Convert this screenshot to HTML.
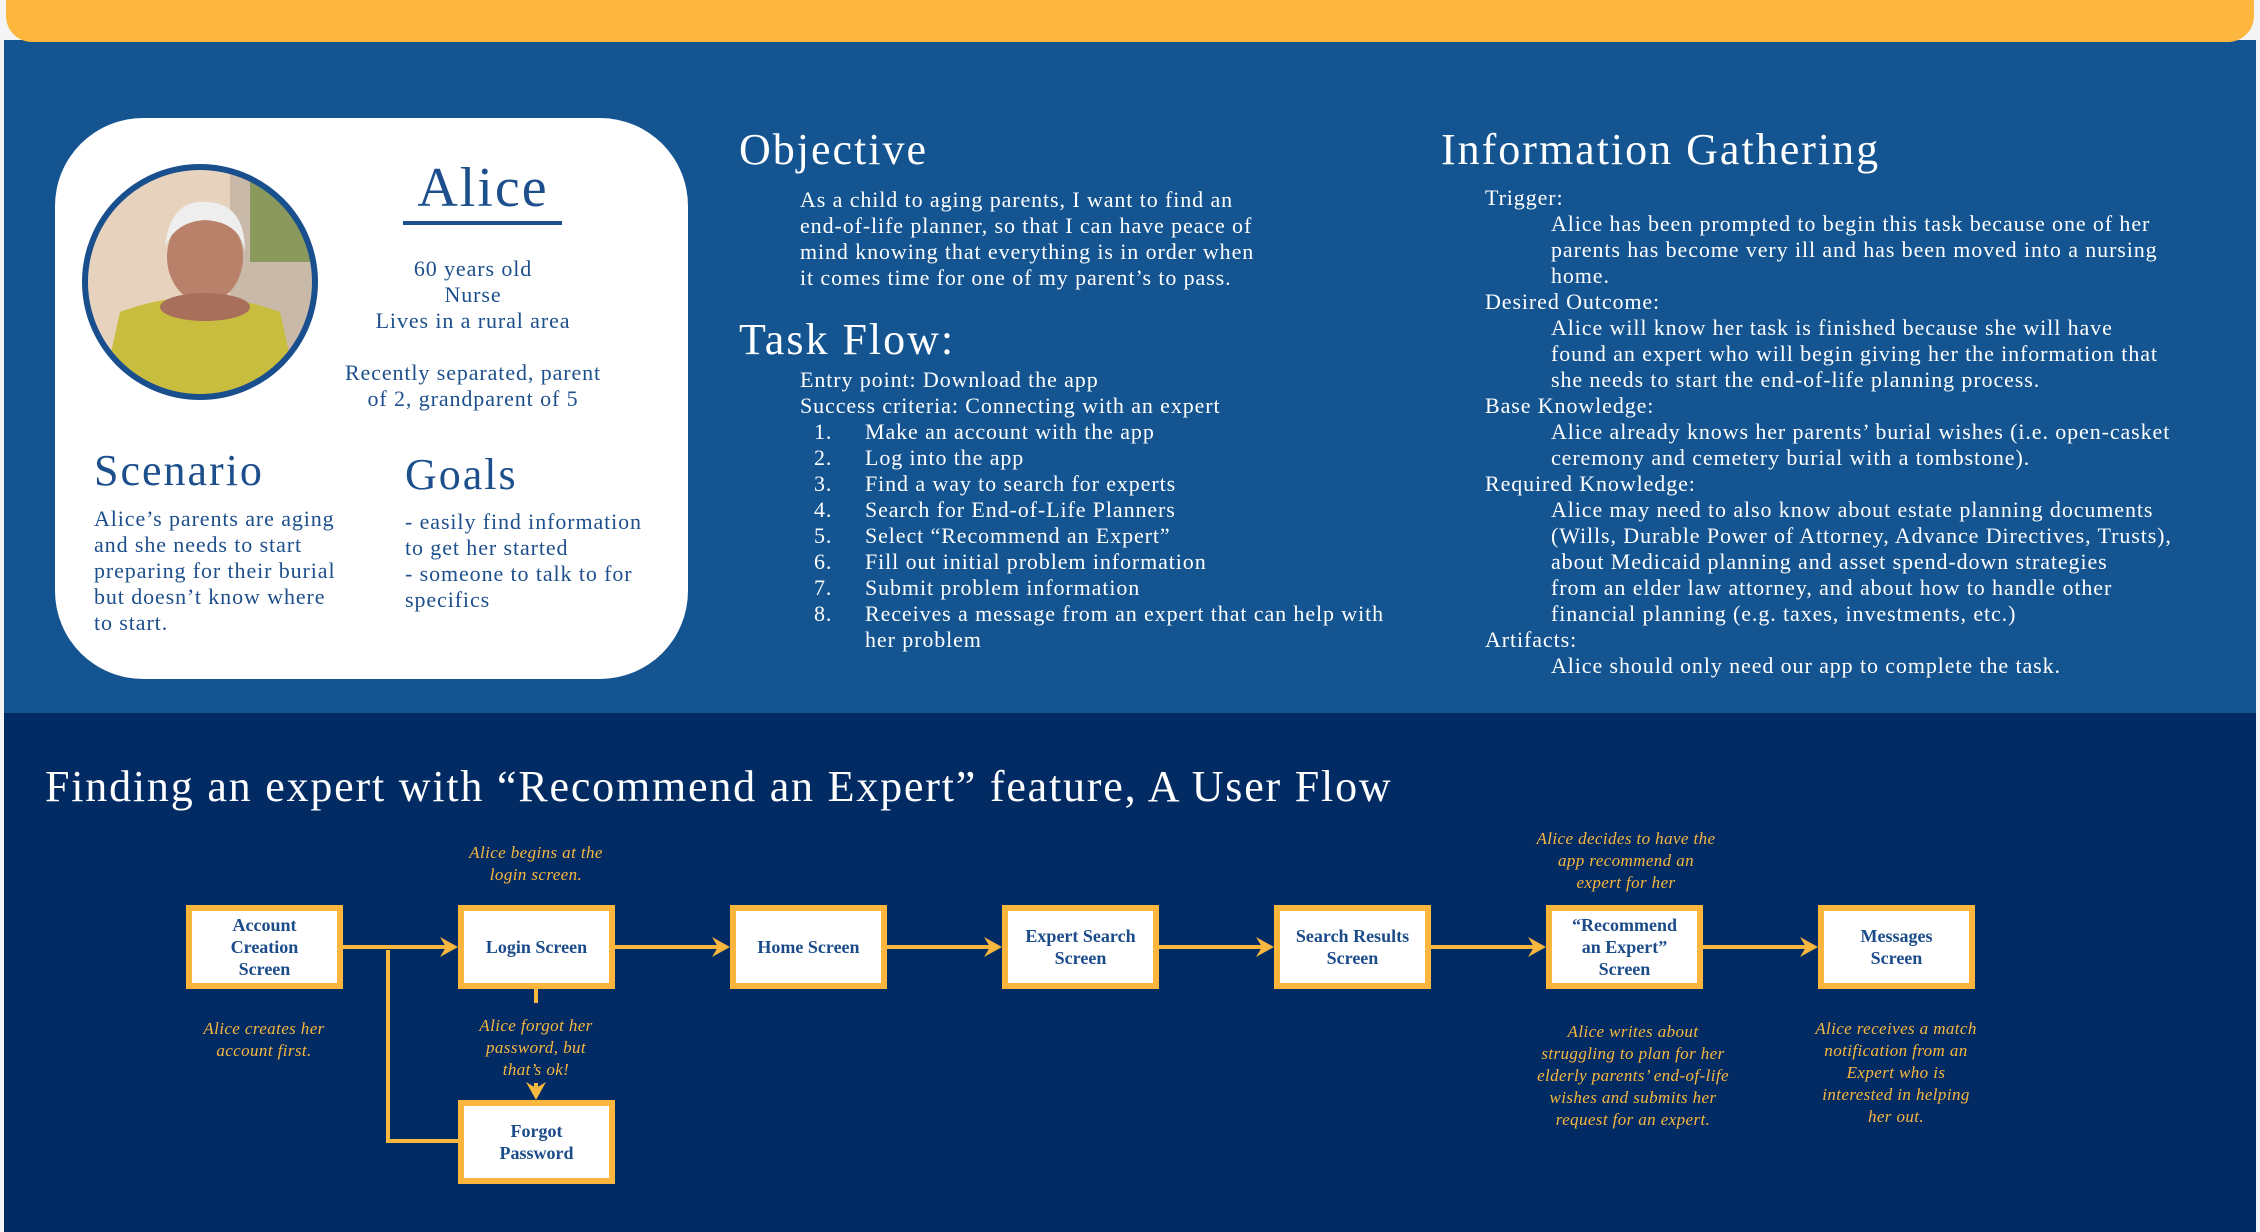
<!DOCTYPE html>
<html><head><meta charset="utf-8"><style>
*{margin:0;padding:0;box-sizing:border-box}
body{width:2260px;height:1232px;position:relative;overflow:hidden;background:#f4f4f4;font-family:"Liberation Serif",serif}
.a{position:absolute;white-space:nowrap}
.t{font-size:22px;line-height:26px;color:#fff;letter-spacing:0.9px}
.h{font-size:44px;line-height:50px;color:#fff;letter-spacing:2px}
.b{color:#1d4f8c}
.box{position:absolute;width:157px;height:84px;background:#fff;border:6px solid #fcb53d;display:flex;align-items:center;justify-content:center;text-align:center;color:#1b4c89;font-weight:bold;font-size:18px;line-height:22px}
.n{position:absolute;color:#f8b83f;font-style:italic;font-size:17px;line-height:22px;text-align:center;white-space:nowrap;transform:translateX(-50%);letter-spacing:0.4px}
</style></head><body>
<div class="a" style="left:4px;top:40px;width:2252px;height:674px;background:#135491"></div>
<div class="a" style="left:4px;top:713px;width:2252px;height:519px;background:#022b63"></div>
<div class="a" style="left:6px;top:0;width:2248px;height:42px;background:#fdb73e;border-radius:0 0 26px 26px"></div>

<div class="a" style="left:55px;top:118px;width:633px;height:561px;background:#fff;border-radius:88px"></div>
<svg class="a" style="left:80px;top:162px" width="240" height="240" viewBox="0 0 240 240">
<defs><clipPath id="c"><circle cx="120" cy="120" r="115"/></clipPath></defs>
<g clip-path="url(#c)">
<rect width="240" height="240" fill="#e7d3bd"/>
<rect x="150" y="0" width="90" height="240" fill="#c9b9a8"/>
<rect x="170" y="20" width="60" height="80" fill="#8b9a5c"/>
<path d="M20 240 L40 150 Q120 120 200 150 L220 240Z" fill="#c8bd3e"/>
<ellipse cx="125" cy="95" rx="38" ry="46" fill="#b9806a"/>
<path d="M85 85 Q90 38 125 40 Q165 40 165 90 Q160 60 125 58 Q95 60 85 85Z" fill="#eee"/>
<ellipse cx="125" cy="145" rx="45" ry="14" fill="#a86f5a"/>
</g>
<circle cx="120" cy="120" r="115" fill="none" stroke="#1a4f8e" stroke-width="6"/>
</svg>
<div class="a b" style="left:383px;top:158px;width:200px;text-align:center;font-size:56px;line-height:60px;letter-spacing:2px">Alice</div>
<div class="a" style="left:403px;top:221px;width:159px;height:4px;background:#1d4f8c"></div>
<div class="a t b" style="left:253px;top:256px;width:440px;text-align:center">60 years old<br>Nurse<br>Lives in a rural area<br><br>Recently separated, parent<br>of 2, grandparent of 5</div>
<div class="a h b" style="left:94px;top:446px">Scenario</div>
<div class="a h b" style="left:405px;top:450px">Goals</div>
<div class="a t b" style="left:94px;top:506px">Alice’s parents are aging<br>and she needs to start<br>preparing for their burial<br>but doesn’t know where<br>to start.</div>
<div class="a t b" style="left:405px;top:509px">- easily find information<br>to get her started<br>- someone to talk to for<br>specifics</div>

<div class="a h" style="left:739px;top:125px">Objective</div>
<div class="a t" style="left:800px;top:187px">As a child to aging parents, I want to find an<br>end-of-life planner, so that I can have peace of<br>mind knowing that everything is in order when<br>it comes time for one of my parent’s to pass.</div>
<div class="a h" style="left:739px;top:315px">Task Flow:</div>
<div class="a t" style="left:800px;top:367px">Entry point: Download the app<br>Success criteria: Connecting with an expert</div>
<div class="a t" style="left:814px;top:419px">1.<br>2.<br>3.<br>4.<br>5.<br>6.<br>7.<br>8.</div>
<div class="a t" style="left:865px;top:419px">Make an account with the app<br>Log into the app<br>Find a way to search for experts<br>Search for End-of-Life Planners<br>Select “Recommend an Expert”<br>Fill out initial problem information<br>Submit problem information<br>Receives a message from an expert that can help with<br>her problem</div>

<div class="a h" style="left:1441px;top:125px">Information Gathering</div>
<div class="a t" style="left:1485px;top:185px">Trigger:<br><br><br><br>Desired Outcome:<br><br><br><br>Base Knowledge:<br><br><br>Required Knowledge:<br><br><br><br><br><br>Artifacts:</div>
<div class="a t" style="left:1551px;top:211px">Alice has been prompted to begin this task because one of her<br>parents has become very ill and has been moved into a nursing<br>home.<br><br>Alice will know her task is finished because she will have<br>found an expert who will begin giving her the information that<br>she needs to start the end-of-life planning process.<br><br>Alice already knows her parents’ burial wishes (i.e. open-casket<br>ceremony and cemetery burial with a tombstone).<br><br>Alice may need to also know about estate planning documents<br>(Wills, Durable Power of Attorney, Advance Directives, Trusts),<br>about Medicaid planning and asset spend-down strategies<br>from an elder law attorney, and about how to handle other<br>financial planning (e.g. taxes, investments, etc.)<br><br>Alice should only need our app to complete the task.</div>

<div class="a" style="left:45px;top:762px;font-size:44px;line-height:50px;color:#fff;letter-spacing:1.8px">Finding an expert with “Recommend an Expert” feature, A User Flow</div>

<svg class="a" style="left:0;top:0" width="2260" height="1232">
<g stroke="#f8b83f" stroke-width="4" fill="none">
<line x1="343" y1="947" x2="450" y2="947"/>
<line x1="615" y1="947" x2="722" y2="947"/>
<line x1="887" y1="947" x2="994" y2="947"/>
<line x1="1159" y1="947" x2="1266" y2="947"/>
<line x1="1431" y1="947" x2="1538" y2="947"/>
<line x1="1703" y1="947" x2="1810" y2="947"/>
<polyline points="388,950 388,1141 458,1141"/>
<line x1="536" y1="989" x2="536" y2="1003"/>
<line x1="536" y1="1083" x2="536" y2="1094"/>
</g>
<g fill="#f8b83f">
<path d="M458 947 L440 937 L446 947 L440 957Z"/>
<path d="M730 947 L712 937 L718 947 L712 957Z"/>
<path d="M1002 947 L984 937 L990 947 L984 957Z"/>
<path d="M1274 947 L1256 937 L1262 947 L1256 957Z"/>
<path d="M1546 947 L1528 937 L1534 947 L1528 957Z"/>
<path d="M1818 947 L1800 937 L1806 947 L1800 957Z"/>
<path d="M536 1100 L526 1082 L536 1088 L546 1082Z"/>
</g>
</svg>

<div class="box" style="left:186px;top:905px">Account<br>Creation<br>Screen</div>
<div class="box" style="left:458px;top:905px">Login Screen</div>
<div class="box" style="left:730px;top:905px">Home Screen</div>
<div class="box" style="left:1002px;top:905px">Expert Search<br>Screen</div>
<div class="box" style="left:1274px;top:905px">Search Results<br>Screen</div>
<div class="box" style="left:1546px;top:905px">“Recommend<br>an Expert”<br>Screen</div>
<div class="box" style="left:1818px;top:905px">Messages<br>Screen</div>
<div class="box" style="left:458px;top:1100px">Forgot<br>Password</div>

<div class="n" style="left:536px;top:842px">Alice begins at the<br>login screen.</div>
<div class="n" style="left:264px;top:1018px">Alice creates her<br>account first.</div>
<div class="n" style="left:536px;top:1015px">Alice forgot her<br>password, but<br>that’s ok!</div>
<div class="n" style="left:1626px;top:828px">Alice decides to have the<br>app recommend an<br>expert for her</div>
<div class="n" style="left:1633px;top:1021px">Alice writes about<br>struggling to plan for her<br>elderly parents’ end-of-life<br>wishes and submits her<br>request for an expert.</div>
<div class="n" style="left:1896px;top:1018px">Alice receives a match<br>notification from an<br>Expert who is<br>interested in helping<br>her out.</div>
</body></html>
